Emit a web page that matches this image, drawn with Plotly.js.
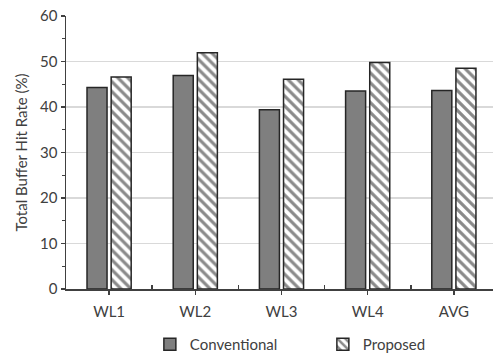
<!DOCTYPE html>
<html>
<head>
<meta charset="utf-8">
<script src="https://cdn.plot.ly/plotly-3.0.1.min.js"></script>
<style>html,body{margin:0;padding:0;background:#fff;}#chart{width:493px;height:354px;}</style>
</head>
<body>
<div id="chart"></div>
<script>
var categories = ["WL1", "WL2", "WL3", "WL4", "AVG"];
var conventional = [44.3, 46.9, 39.4, 43.5, 43.6];
var proposed = [46.6, 51.9, 46.1, 49.8, 48.5];
var yTicks = [0, 10, 20, 30, 40, 50, 60];

var idx = categories.map(function(c, i){ return i; });
var sepVals = idx.slice(0, -1).map(function(i){ return i + 0.5; });

var font = "Lato, 'Open Sans', sans-serif";
var traces = [
  {
    type: "bar", name: "Conventional", x: idx, y: conventional,
    marker: {color: "#7f7f7f", line: {color: "#262626", width: 1.5}}
  },
  {
    type: "bar", name: "Proposed", x: idx, y: proposed,
    marker: {color: "#ffffff", line: {color: "#262626", width: 1.5},
      pattern: {shape: "\\", fgcolor: "#8a8a8a", bgcolor: "#ffffff", size: 7, solidity: 0.45}}
  }
];
var layout = {
  width: 493, height: 354,
  margin: {l: 65.5, r: 0, t: 16, b: 65},
  paper_bgcolor: "#fff", plot_bgcolor: "#fff",
  font: {family: font, size: 15, color: "#404040"},
  barmode: "group", bargap: 0.44, bargroupgap: 0.17,
  showlegend: true,
  legend: {orientation: "h", xref: "container", yref: "container", x: 0.304, xanchor: "left", y: 0.027, yanchor: "middle",
    entrywidth: 128, entrywidthmode: "pixels", font: {size: 15, color: "#404040"}, itemwidth: 30},
  xaxis: {
    type: "linear", range: [-0.5, 4.454], tickvals: idx, ticktext: categories, automargin: false,
    ticks: "outside", ticklen: 4, tickwidth: 1.5, tickcolor: "#404040", ticklabelstandoff: 4,
    showline: true, linecolor: "#404040", linewidth: 1.5, showgrid: false, zeroline: false,
    minor: {tickvals: sepVals, ticks: "inside", ticklen: 4, tickwidth: 1.5, tickcolor: "#404040", showgrid: false},
    tickfont: {size: 15, color: "#404040"}, fixedrange: true
  },
  yaxis: {
    range: [0, 60], tickvals: yTicks, ticks: "outside", ticklen: 4, tickwidth: 1.5, tickcolor: "#404040",
    showline: true, linecolor: "#404040", linewidth: 1.5, automargin: false,
    showgrid: true, gridcolor: "#d9d9d9", gridwidth: 1.5, zeroline: false,
    minor: {dtick: 5, ticks: "outside", ticklen: 3, tickwidth: 1.2, tickcolor: "#404040", showgrid: false},
    tickfont: {size: 15, color: "#404040"},
    title: {text: "Total Buffer Hit Rate (%)", font: {size: 15, color: "#404040"}, standoff: 9}
  }
};
Plotly.newPlot("chart", traces, layout, {displayModeBar: false, staticPlot: true});
</script>
</body>
</html>
